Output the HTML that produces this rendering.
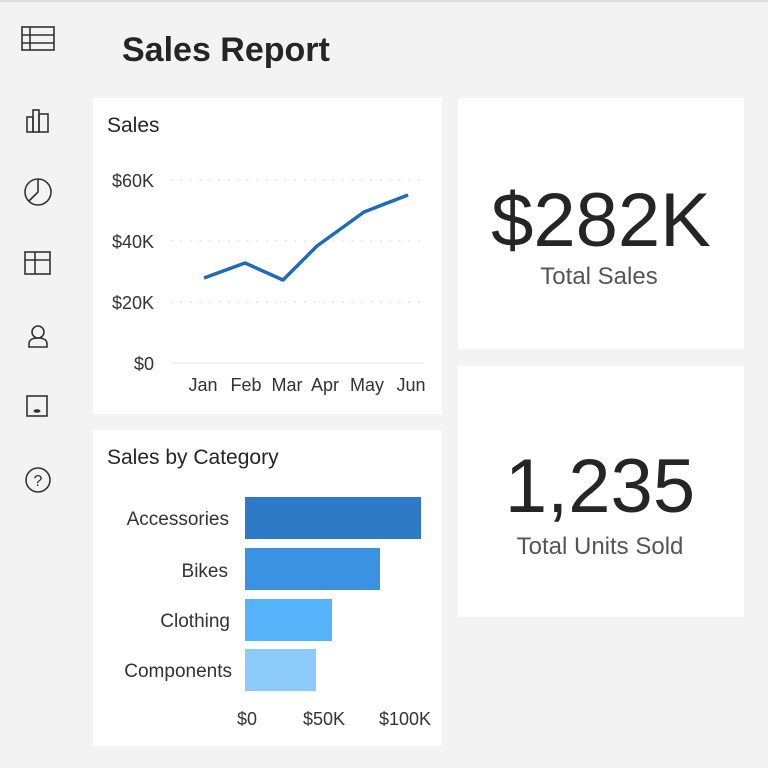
<!DOCTYPE html>
<html><head><meta charset="utf-8"><style>
html,body{margin:0;padding:0;width:768px;height:768px;overflow:hidden;background:#f3f3f3;font-family:"Liberation Sans",sans-serif;}
.card{position:absolute;background:#fff;}
</style></head><body>
<div style="position:absolute;left:0;top:0;width:768px;height:2px;background:#ddd"></div>
<svg width="768" height="768" style="position:absolute;left:0;top:0" font-family="Liberation Sans, sans-serif">
<text x="122" y="61" font-size="34" font-weight="bold" fill="#252525">Sales Report</text>
<g fill="none" stroke="#333" stroke-width="1.6">
<rect x="22" y="27" width="32" height="23"/><line x1="22" y1="35" x2="54" y2="35"/><line x1="22" y1="43" x2="54" y2="43"/><line x1="30" y1="27" x2="30" y2="50"/>
<rect x="27" y="117" width="6" height="15"/><rect x="33" y="110" width="6" height="22"/><rect x="39" y="114" width="9" height="18"/>
<circle cx="38" cy="192" r="13"/><polyline points="38,179 38,192 29,201"/>
<rect x="25" y="252" width="25" height="22"/><line x1="25" y1="260" x2="50" y2="260"/><line x1="35" y1="252" x2="35" y2="274"/>
<circle cx="38" cy="332" r="6"/><path d="M29,347 v-3 q0,-6 9,-6 q9,0 9,6 v3 z"/>
<rect x="27" y="396" width="20" height="20"/>
<circle cx="38" cy="480" r="12"/>
</g>
<ellipse cx="37" cy="411" rx="3.5" ry="1.8" fill="#333"/>
<text x="38" y="486" font-size="16" text-anchor="middle" fill="#333">?</text>
<rect x="93" y="98" width="349" height="316" fill="#fff"/>
<rect x="93" y="430" width="349" height="316" fill="#fff"/>
<rect x="458" y="98" width="286" height="251" fill="#fff"/>
<rect x="458" y="366" width="286" height="251" fill="#fff"/>
<text x="107" y="132" font-size="21" fill="#252525">Sales</text>
<g stroke="#ddd" stroke-width="1.5" stroke-dasharray="1.5,8">
<line x1="171" y1="180" x2="420" y2="180"/><line x1="171" y1="241" x2="420" y2="241"/><line x1="171" y1="302" x2="420" y2="302"/></g>
<line x1="171" y1="363" x2="424" y2="363" stroke="#e6e6e6"/>
<g font-size="18" fill="#333" text-anchor="end">
<text x="154" y="187">$60K</text><text x="154" y="248">$40K</text><text x="154" y="309">$20K</text><text x="154" y="370">$0</text></g>
<g font-size="18" fill="#333" text-anchor="middle">
<text x="203" y="391">Jan</text><text x="246" y="391">Feb</text><text x="287" y="391">Mar</text><text x="325" y="391">Apr</text><text x="367" y="391">May</text><text x="411" y="391">Jun</text></g>
<polyline points="204,278 245,263 283,280 317,246 364,212 408,195" fill="none" stroke="#1f6bb5" stroke-width="3.5" stroke-linejoin="round"/>
<text x="107" y="464" font-size="21" fill="#252525">Sales by Category</text>
<rect x="245" y="497" width="176" height="42" fill="#2f7ac6"/>
<rect x="245" y="548" width="135" height="42" fill="#3a92e0"/>
<rect x="245" y="599" width="87" height="42" fill="#56b2f9"/>
<rect x="245" y="649" width="71" height="42" fill="#8ccafa"/>
<g font-size="19" fill="#333" text-anchor="end">
<text x="229" y="525">Accessories</text><text x="228" y="577">Bikes</text><text x="230" y="627">Clothing</text><text x="232" y="677">Components</text></g>
<g font-size="18" fill="#333" text-anchor="middle">
<text x="247" y="725">$0</text><text x="324" y="725">$50K</text><text x="405" y="725">$100K</text></g>
<text x="601" y="246" font-size="76" fill="#252525" text-anchor="middle">$282K</text>
<text x="599" y="284" font-size="24" fill="#555" text-anchor="middle">Total Sales</text>
<text x="600" y="512" font-size="76" fill="#252525" text-anchor="middle">1,235</text>
<text x="600" y="554" font-size="24" fill="#555" text-anchor="middle">Total Units Sold</text>
</svg>
</body></html>
